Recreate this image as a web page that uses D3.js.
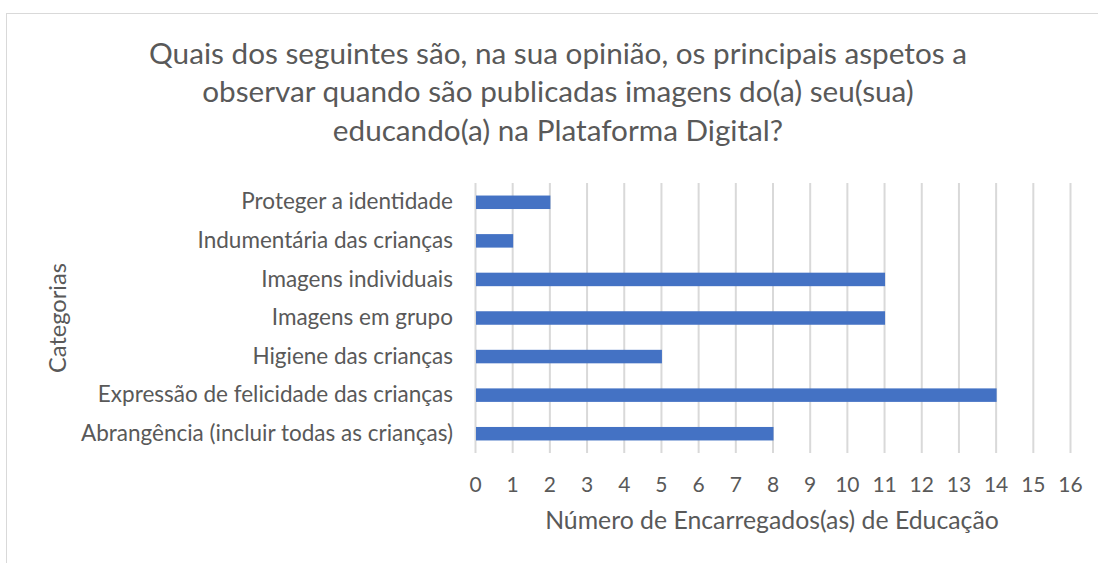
<!DOCTYPE html>
<html>
<head>
<meta charset="utf-8">
<script src="https://cdn.jsdelivr.net/npm/d3@7"></script>
<style>
  body { margin: 0; background: #fff; }
  text { font-family: Lato, sans-serif; fill: #595959; }
</style>
</head>
<body>
<div id="chart"></div>
<script>
// Data
const categories = [
  "Proteger a identidade",
  "Indumentária das crianças",
  "Imagens individuais",
  "Imagens em grupo",
  "Higiene das crianças",
  "Expressão de felicidade das crianças",
  "Abrangência (incluir todas as crianças)"
];
const values = [2, 1, 11, 11, 5, 14, 8];
const xTicks = d3.range(0, 17);
const titleLines = [
  "Quais dos seguintes são, na sua opinião, os principais aspetos a",
  "observar quando são publicadas imagens do(a) seu(sua)",
  "educando(a) na Plataforma Digital?"
];

const width = 1098, height = 563;
const margin = { top: 183, right: 28, bottom: 110, left: 475 };

const svg = d3.select("#chart")
  .append("svg")
  .attr("width", width)
  .attr("height", height);

// Chart border
svg.append("rect")
  .attr("x", 6.5)
  .attr("y", 13.5)
  .attr("width", width)
  .attr("height", height)
  .attr("fill", "none")
  .attr("stroke", "#d9d9d9")
  .attr("stroke-width", 1);

const x = d3.scaleLinear()
  .domain([0, 16])
  .range([margin.left, 1070]);

const y = d3.scaleBand()
  .domain(categories)
  .range([margin.top, height - margin.bottom])
  .paddingInner(0.65)
  .paddingOuter(0.325);

// Gridlines
svg.append("g")
  .selectAll("line")
  .data(xTicks)
  .enter()
  .append("line")
  .attr("x1", d => x(d) + 0.5)
  .attr("x2", d => x(d) + 0.5)
  .attr("y1", margin.top)
  .attr("y2", height - margin.bottom)
  .attr("stroke", "#d9d9d9")
  .attr("stroke-width", 2);

// Bars
svg.append("g")
  .selectAll("rect")
  .data(values)
  .enter()
  .append("rect")
  .attr("x", x(0) + 1)
  .attr("y", (d, i) => y(categories[i]))
  .attr("width", d => x(d) - x(0))
  .attr("height", y.bandwidth())
  .attr("fill", "#4472c4");

// X axis (labels only)
const xAxis = svg.append("g")
  .attr("transform", `translate(0, ${height - margin.bottom})`)
  .call(d3.axisBottom(x).tickValues(xTicks).tickSize(0).tickPadding(24).tickFormat(d3.format("d")));
xAxis.select(".domain").remove();
xAxis.selectAll("text")
  .style("font-size", "21px")
  .style("font-family", "Lato, sans-serif")
  .attr("fill", "#595959");

// Y axis (labels only)
const yAxis = svg.append("g")
  .attr("transform", `translate(${margin.left}, 0)`)
  .call(d3.axisLeft(y).tickSize(0).tickPadding(22));
yAxis.select(".domain").remove();
yAxis.selectAll("text")
  .style("font-size", "22.5px")
  .style("font-family", "Lato, sans-serif")
  .attr("fill", "#595959");

// Title
svg.append("g")
  .selectAll("text")
  .data(titleLines)
  .enter()
  .append("text")
  .attr("x", 558)
  .attr("y", (d, i) => 56 + i * 38.5)
  .attr("text-anchor", "middle")
  .attr("dominant-baseline", "middle")
  .style("font-size", "29.7px")
  .text(d => d);

// X axis label
svg.append("text")
  .attr("x", 772)
  .attr("y", 523)
  .attr("text-anchor", "middle")
  .attr("dominant-baseline", "middle")
  .style("font-size", "24.8px")
  .text("Número de Encarregados(as) de Educação");

// Y axis label
svg.append("text")
  .attr("transform", "rotate(-90)")
  .attr("x", -318)
  .attr("y", 60)
  .attr("text-anchor", "middle")
  .attr("dominant-baseline", "middle")
  .style("font-size", "23.6px")
  .text("Categorias");
</script>
</body>
</html>
